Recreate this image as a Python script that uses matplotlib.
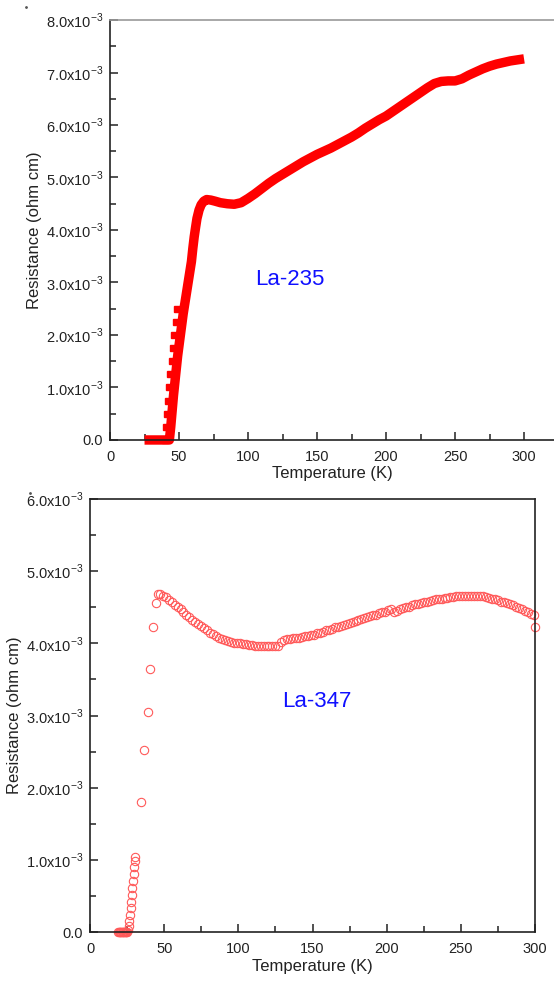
import matplotlib.pyplot as plt
from matplotlib.lines import Line2D
from matplotlib.ticker import MultipleLocator, FuncFormatter

plt.rcParams["font.family"] = ["Liberation Sans", "DejaVu Sans"]

# La-235 (top panel), resistance in units of 1e-3 ohm cm
t_235 = [25, 30, 35, 40, 43, 44, 45, 46, 47, 48, 49, 50, 51, 52, 53, 54.5, 56, 57.5, 59, 60,
         61, 62, 63, 64.5, 66, 68, 70, 73, 76, 80, 85, 90, 95, 100, 105, 110, 115, 120, 125,
         130, 135, 140, 145, 150, 155, 160, 165, 170, 175, 180, 185, 190, 195, 200, 205, 210,
         215, 220, 225, 230, 235, 240, 245, 250, 255, 260, 265, 270, 275, 280, 285, 290, 295, 300]
r_235 = [0, 0, 0, 0, 0, 0.25, 0.55, 0.85, 1.1, 1.35, 1.6, 1.8, 2.0, 2.2, 2.4, 2.65, 2.9, 3.15, 3.4, 3.65,
         3.87, 4.05, 4.22, 4.38, 4.48, 4.55, 4.58, 4.57, 4.55, 4.52, 4.50, 4.49, 4.52, 4.60, 4.69, 4.79, 4.89, 4.98, 5.06,
         5.14, 5.22, 5.30, 5.37, 5.44, 5.50, 5.56, 5.63, 5.70, 5.77, 5.85, 5.94, 6.02, 6.10, 6.17, 6.26, 6.35,
         6.44, 6.53, 6.62, 6.71, 6.79, 6.83, 6.84, 6.84, 6.88, 6.95, 7.01, 7.07, 7.12, 7.16, 7.19, 7.22, 7.24, 7.26]
# second branch near the transition (drawn as separate squares)
t_235b = [39.5, 40.5, 41.5, 42.3, 43, 43.8, 44.6, 45.5, 46.5, 47.6, 48.8]
r_235b = [0.0, 0.25, 0.5, 0.75, 1.0, 1.25, 1.5, 1.75, 2.0, 2.25, 2.5]

# La-347 (bottom panel)
t_347 = [19, 19.5, 20, 20.5, 21, 21.5, 22, 22.5, 23, 23.5, 24, 24.5, 25,
         25.5, 26, 26.5, 27, 27.4, 27.8, 28.2, 28.6, 29, 29.4, 29.8, 30.2, 30.5,
         34.2, 36.6, 38.9, 40.7, 42.7, 44.2, 45.8,
         47, 49, 51, 53, 55, 57, 59, 61, 63, 65, 67, 69, 71, 73, 75, 77, 79, 81, 83, 85,
         87, 89, 91, 93, 95, 97, 99, 101, 103, 105, 107, 109, 111, 113, 115, 117, 119, 121,
         123, 125, 127, 129, 131, 133, 135, 137, 139, 141, 143, 145, 147, 149, 151, 153,
         155, 157, 159, 161, 163, 165, 167, 169, 171, 173, 175, 177, 179, 181, 183, 185,
         187, 189, 191, 193, 195, 197, 199, 201, 203, 205, 207, 209, 211, 213, 215, 217,
         219, 221, 223, 225, 227, 229, 231, 233, 235, 237, 239, 241, 243, 245, 247, 249,
         251, 253, 255, 257, 259, 261, 263, 265, 267, 269, 271, 273, 275, 277, 279, 281,
         283, 285, 287, 289, 291, 293, 295, 297, 299, 300]
r_347 = [0, 0, 0, 0, 0, 0, 0, 0, 0, 0, 0, 0, 0,
         0.03, 0.08, 0.15, 0.24, 0.33, 0.42, 0.51, 0.61, 0.71, 0.81, 0.9, 0.99, 1.04,
         1.80, 2.52, 3.05, 3.65, 4.23, 4.56, 4.68,
         4.68, 4.66, 4.64, 4.60, 4.57, 4.53, 4.50, 4.47, 4.43, 4.40, 4.37, 4.33, 4.30, 4.27, 4.24, 4.21, 4.18, 4.15, 4.13, 4.10,
         4.08, 4.06, 4.05, 4.03, 4.02, 4.01, 4.00, 4.00, 3.99, 3.99, 3.98, 3.98, 3.97, 3.97, 3.96, 3.96, 3.96, 3.96,
         3.96, 3.96, 3.97, 4.02, 4.05, 4.06, 4.06, 4.07, 4.08, 4.08, 4.09, 4.10, 4.10, 4.11, 4.12, 4.14,
         4.15, 4.16, 4.18, 4.19, 4.20, 4.22, 4.23, 4.24, 4.26, 4.27, 4.28, 4.30, 4.31, 4.32, 4.34, 4.35,
         4.36, 4.38, 4.39, 4.40, 4.42, 4.43, 4.44, 4.46, 4.47, 4.44, 4.45, 4.47, 4.49, 4.50, 4.51, 4.53,
         4.54, 4.55, 4.56, 4.57, 4.58, 4.59, 4.60, 4.61, 4.61, 4.62, 4.63, 4.63, 4.64, 4.64, 4.65, 4.65,
         4.66, 4.66, 4.66, 4.66, 4.66, 4.66, 4.65, 4.65, 4.64, 4.63, 4.62, 4.61, 4.60, 4.58, 4.57, 4.56,
         4.54, 4.53, 4.51, 4.49, 4.47, 4.45, 4.43, 4.41, 4.39, 4.22]


def ylab(v, pos):
    if abs(v) < 1e-9:
        return "0.0"
    return r"%.1fx10$^{\mathregular{-3}}$" % v


def style_axes(ax, ymax):
    ax.set_ylim(0, ymax)
    ax.xaxis.set_major_locator(MultipleLocator(50))
    ax.xaxis.set_minor_locator(MultipleLocator(25))
    ax.yaxis.set_major_locator(MultipleLocator(1))
    ax.yaxis.set_minor_locator(MultipleLocator(0.5))
    ax.yaxis.set_major_formatter(FuncFormatter(ylab))
    ax.tick_params(which="both", direction="in", top=False, right=False,
                   labelsize=10.5, colors="#222222", width=1.1)
    ax.tick_params(which="major", length=6, pad=7)
    ax.tick_params(which="minor", length=4)
    ax.tick_params(axis="y", pad=5)
    for s in ax.spines.values():
        s.set_linewidth(1.2)
        s.set_color("#222222")
    ax.set_xlabel("Temperature (K)", fontsize=12, color="#222222", labelpad=2)
    ax.set_ylabel("Resistance (ohm cm)", fontsize=12, color="#222222", labelpad=3)


fig = plt.figure(figsize=(5.54, 9.81), dpi=100)

ax1 = fig.add_axes([0.1986, 0.5515, 0.8014, 0.4281])
ax1.plot(t_235, r_235, color="#ff0000", lw=6.8, solid_capstyle="butt",
         solid_joinstyle="round", clip_on=False, zorder=2)
ax1.plot(t_235b, r_235b, linestyle="none", marker="s", markersize=5,
         color="#ff0000", clip_on=False, zorder=2)
ax1.set_xlim(0, 321.7)
style_axes(ax1, 8)
ax1.spines["right"].set_visible(False)
ax1.spines["top"].set_color("#999999")
ax1.text(130, 3.05, "La-235", color="#1010ff", fontsize=16, ha="center", va="center")

ax2 = fig.add_axes([0.1625, 0.0499, 0.8032, 0.4414])
ax2.plot(t_347, r_347, linestyle="none", marker="o", markersize=6,
         markerfacecolor="none", markeredgecolor="#ff5a5a", markeredgewidth=0.8,
         clip_on=False, zorder=2)
ax2.set_xlim(0, 300)
style_axes(ax2, 6)
ax2.text(153, 3.2, "La-347", color="#1010ff", fontsize=16, ha="center", va="center")

# two stray specks in the corners of the scan
for px, py in [(26, 7), (30, 493)]:
    fig.add_artist(Line2D([px / 554], [1 - py / 981], marker="o", markersize=1,
                          color="#555555", linestyle="none", transform=fig.transFigure))

fig.savefig("out.png", dpi=100)
